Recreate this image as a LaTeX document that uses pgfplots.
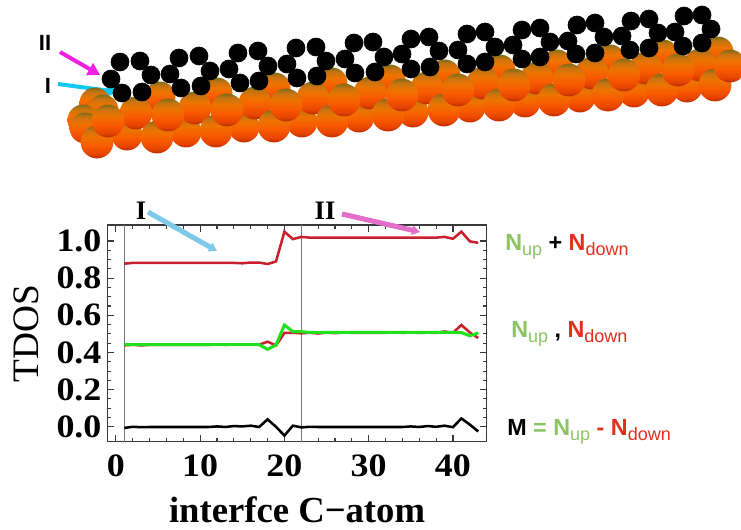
\documentclass[border=0pt]{standalone}
\usepackage{fontspec}
\usepackage{pgfplots}
\pgfplotsset{compat=1.18}
\usetikzlibrary{arrows.meta}
\setmainfont{Liberation Serif}
\newfontfamily\labelsans{Liberation Sans}
\newfontfamily\tickfont[FakeStretch=1.1]{Liberation Serif Bold}

\definecolor{totred}{HTML}{C8202C}
\definecolor{upgreen}{HTML}{22E01E}
\definecolor{framegray}{HTML}{3A3A3A}
\definecolor{linegray}{HTML}{777777}
\definecolor{txtgreen}{HTML}{8CC464}
\definecolor{txtred}{HTML}{E0301E}
\definecolor{cu0}{HTML}{B82C00}
\definecolor{cu1}{HTML}{E84400}
\definecolor{cu2}{HTML}{F85C00}
\definecolor{cu3}{HTML}{EE7400}
\definecolor{cu4}{HTML}{C87410}
\definecolor{cu5}{HTML}{7E6C18}

% copper sphere: shading is fitted to the 25bp-75bp band
\pgfdeclareverticalshading{copper}{100bp}{
  color(0bp)=(cu0);
  color(25bp)=(cu0);
  color(32bp)=(cu1);
  color(45bp)=(cu2);
  color(58bp)=(cu3);
  color(68bp)=(cu4);
  color(75bp)=(cu5);
  color(100bp)=(cu5)}
\pgfdeclareplotmark{ball}{%
  \pgfpathcircle{\pgfpointorigin}{\pgfplotmarksize}%
  \pgfshadepath{copper}{0}%
  \pgfusepath{discard}}

\newcommand{\dn}[1]{\raisebox{-0.45ex}{\fontsize{13.5}{13.5}\selectfont\mdseries #1}}

\begin{document}
\begin{tikzpicture}
\useasboundingbox (0pt,0pt) rectangle (555.75pt,396.75pt);
% TDOS panel, frame placed in picture pixels (1 px = 0.75 pt)
\begin{axis}[
    at={(80.6pt,65.5pt)}, anchor=south west,
    scale only axis,
    width=284.4pt, height=162.5pt,
    xmin=-1, xmax=44, ymin=-0.08, ymax=1.086,
    xtick={0,10,20,30,40},
    ytick={0,0.2,0.4,0.6,0.8,1.0},
    minor x tick num=4,
    minor y tick num=3,
    major tick length=5pt,
    minor tick length=3pt,
    major tick style={draw=framegray, line width=0.9pt},
    minor tick style={draw=framegray, line width=0.8pt},
    axis line style={framegray, line width=0.8pt},
    /pgf/number format/assume math mode=true,
    /pgf/number format/fixed,
    /pgf/number format/fixed zerofill,
    yticklabel style={/pgf/number format/precision=1, font=\fontsize{24.5}{24.5}\tickfont, xshift=-1pt},
    xticklabel style={/pgf/number format/precision=0, font=\fontsize{24.5}{24.5}\tickfont, yshift=-6pt},
    xlabel={interfce C\textminus atom},
    xlabel style={font=\fontsize{27.5}{27.5}\selectfont\bfseries, at={(axis description cs:0.5,-0.375)}, anchor=base},
    ylabel={TDOS},
    ylabel style={font=\fontsize{28}{28}\selectfont, at={(axis description cs:-0.213,0.5)}, anchor=center},
]
\addplot[linegray, line width=0.8pt] coordinates {(1,-0.08) (1,1.086)};
\addplot[linegray, line width=0.8pt] coordinates {(22,-0.08) (22,1.086)};
% N_up + N_down
\addplot[totred, line width=1.9pt] coordinates {
(1,0.878) (2,0.882) (3,0.882) (4,0.882) (5,0.882) (6,0.882) (7,0.882) (8,0.882) (9,0.882) (10,0.882)
(11,0.882) (12,0.882) (13,0.882) (14,0.882) (15,0.880) (16,0.884) (17,0.884) (18,0.876) (19,0.890) (20,1.050)
(21,1.010) (22,1.022) (23,1.018) (24,1.018) (25,1.018) (26,1.018) (27,1.018) (28,1.018) (29,1.018) (30,1.018)
(31,1.018) (32,1.018) (33,1.018) (34,1.018) (35,1.018) (36,1.018) (37,1.018) (38,1.018) (39,1.022) (40,1.012)
(41,1.050) (42,0.998) (43,0.990)};
% N_down
\addplot[totred, line width=1.9pt] coordinates {
(1,0.438) (2,0.442) (3,0.438) (4,0.441) (5,0.441) (6,0.441) (7,0.441) (8,0.441) (9,0.441) (10,0.441)
(11,0.441) (12,0.444) (13,0.441) (14,0.444) (15,0.442) (16,0.444) (17,0.442) (18,0.458) (19,0.438) (20,0.505)
(21,0.506) (22,0.503) (23,0.506) (24,0.502) (25,0.507) (26,0.504) (27,0.507) (28,0.506) (29,0.506) (30,0.506)
(31,0.506) (32,0.506) (33,0.508) (34,0.505) (35,0.508) (36,0.505) (37,0.507) (38,0.505) (39,0.513) (40,0.506)
(41,0.548) (42,0.508) (43,0.478)};
% N_up
\addplot[upgreen, line width=2.3pt] coordinates {
(1,0.442) (2,0.442) (3,0.442) (4,0.442) (5,0.442) (6,0.442) (7,0.442) (8,0.442) (9,0.442) (10,0.442)
(11,0.442) (12,0.442) (13,0.442) (14,0.442) (15,0.442) (16,0.442) (17,0.442) (18,0.417) (19,0.440) (20,0.548)
(21,0.512) (22,0.512) (23,0.508) (24,0.508) (25,0.508) (26,0.508) (27,0.508) (28,0.508) (29,0.508) (30,0.508)
(31,0.508) (32,0.508) (33,0.508) (34,0.508) (35,0.508) (36,0.508) (37,0.508) (38,0.508) (39,0.508) (40,0.508)
(41,0.507) (42,0.490) (43,0.505)};
% M = N_up - N_down
\addplot[black, line width=1.9pt] coordinates {
(1,-0.006) (2,0.000) (3,-0.002) (4,-0.001) (5,-0.001) (6,-0.001) (7,-0.001) (8,-0.001) (9,-0.001) (10,-0.001)
(11,-0.001) (12,0.002) (13,-0.001) (14,0.004) (15,0.002) (16,0.006) (17,-0.001) (18,0.040) (19,0.000) (20,-0.047)
(21,0.006) (22,-0.003) (23,0.000) (24,-0.001) (25,-0.001) (26,-0.001) (27,-0.001) (28,-0.001) (29,-0.001) (30,-0.001)
(31,-0.001) (32,-0.001) (33,-0.001) (34,-0.001) (35,0.002) (36,-0.001) (37,0.004) (38,0.000) (39,0.006) (40,-0.002)
(41,0.045) (42,0.012) (43,-0.025)};
\end{axis}

% Slab and carbon layer, coordinates in picture pixels; also carries the annotations
\begin{axis}[
    at={(0pt,0pt)}, anchor=south west,
    scale only axis,
    width=555.75pt, height=396.75pt,
    xmin=0, xmax=741, ymin=0, ymax=529,
    y dir=reverse,
    hide axis,
]
% back row
\addplot[only marks, mark=ball, mark size=11.6pt] coordinates {
(95,103) (103,110) (160,97) (217,93) (275,88) (332,83) (390,80) (445,75) (500,70) (557,65) (610,60) (663,55) (718,52)};
% lower back row
\addplot[only marks, mark=ball, mark size=11.6pt] coordinates {
(83,120) (85,128) (127,135) (186,132) (244,127) (302,122) (359,117) (413,112) (470,107) (525,102) (580,97) (634,92) (687,87)};
% upper middle row
\addplot[only marks, mark=ball, mark size=12.3pt] coordinates {
(136,113) (195,108) (255,103) (313,98) (370,93) (427,88) (483,83) (537,78) (592,73) (646,68) (700,65)};
% lower front row
\addplot[only marks, mark=ball, mark size=12.3pt] coordinates {
(97,142) (157,137) (216,131) (274,126) (332,121) (388,115) (444,110) (499,105) (554,100) (608,95) (662,90) (715,85)};
% upper front row
\addplot[only marks, mark=ball, mark size=12.3pt] coordinates {
(108,121) (168,115) (227,110) (286,105) (344,100) (402,95) (458,90) (514,85) (569,80) (624,75) (678,70) (730,66)};
% carbon atoms
\addplot[only marks, mark=*, mark size=6.8pt, black] coordinates {
(120,62) (140,61) (111,79) (151,75) (122,93) (142,92)
(179,58) (199,56) (170,74) (210,71) (181,88) (201,86)
(238,53) (258,51) (229,69) (268,66) (240,83) (259,81)
(296,48) (316,47) (287,64) (326,61) (297,78) (317,76)
(354,43) (373,42) (345,59) (384,57) (355,73) (375,72)
(411,39) (429,37) (402,54) (439,51) (411,69) (430,67)
(467,34) (485,32) (458,50) (495,47) (467,64) (485,62)
(522,30) (540,28) (513,45) (550,42) (522,59) (540,57)
(577,25) (595,23) (568,41) (604,37) (576,54) (595,53)
(631,21) (649,19) (622,36) (658,33) (630,50) (649,48)
(684,16) (702,15) (675,32) (711,29) (683,46) (702,43)};

% arrows on the structure
\draw[-{Triangle[length=9pt,width=10pt]}, line width=3pt, color={rgb,255:red,240;green,32;blue,224}] (60,52) -- (100,75);
\draw[-{Triangle[length=9pt,width=10pt]}, line width=3pt, color={rgb,255:red,16;green,200;blue,240}] (58,84) -- (118,92);
\node[font=\labelsans\bfseries\fontsize{16.5}{16.5}\selectfont] at (45,43) {II};
\node[font=\labelsans\bfseries\fontsize{16.5}{16.5}\selectfont] at (48,86) {I};

% arrows on the panel
\node[font=\bfseries\fontsize{20}{20}\selectfont] at (141,211) {I};
\node[font=\bfseries\fontsize{20}{20}\selectfont] at (325,211) {II};
\draw[-{Triangle[length=6pt,width=7pt]}, line width=3.8pt, color={rgb,255:red,126;green,200;blue,232}] (148,212) -- (217,251);
\draw[-{Triangle[length=6pt,width=7pt]}, line width=3.8pt, color={rgb,255:red,226;green,112;blue,200}] (342,214) -- (420,232);

% curve names
\node[anchor=west, inner sep=0pt, font=\labelsans\bfseries\fontsize{17.5}{17.5}\selectfont] at (505,247)
  {\textcolor{txtgreen}{N\dn{up}} + \textcolor{txtred}{N\dn{down}}};
\node[anchor=west, inner sep=0pt, font=\labelsans\bfseries\fontsize{17.5}{17.5}\selectfont] at (511,334)
  {\textcolor{txtgreen}{N\dn{up}} , \textcolor{txtred}{N\dn{down}}};
\node[anchor=west, inner sep=0pt, font=\labelsans\bfseries\fontsize{17.5}{17.5}\selectfont] at (507,432)
  {M \textcolor{txtgreen}{= N\dn{up}} \textcolor{txtred}{- N\dn{down}}};
\end{axis}
\end{tikzpicture}
\end{document}
